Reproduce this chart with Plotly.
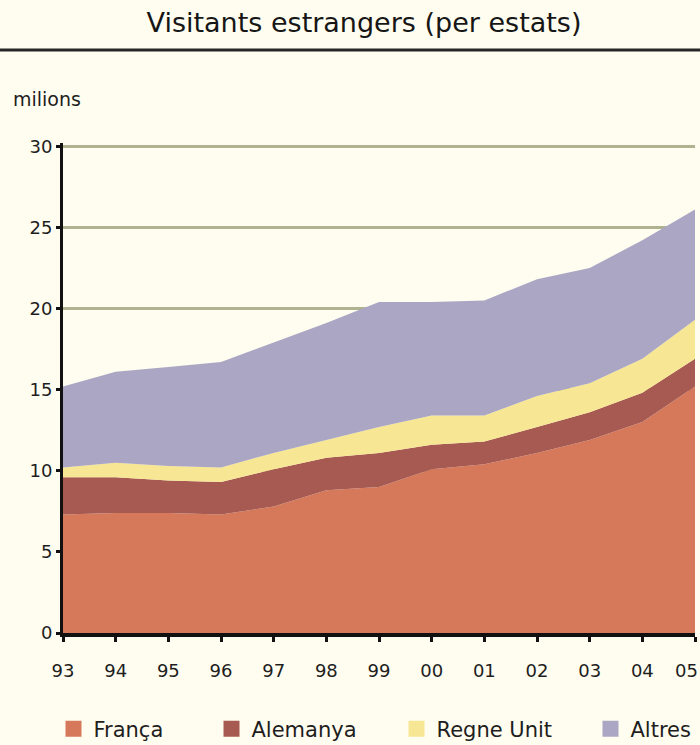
import plotly.graph_objects as go

years = ["93", "94", "95", "96", "97", "98", "99", "00", "01", "02", "03", "04", "05"]
franca = [7.3, 7.4, 7.4, 7.3, 7.8, 8.8, 9.0, 10.1, 10.4, 11.1, 11.9, 13.0, 15.2]
alemanya = [2.3, 2.2, 2.0, 2.0, 2.3, 2.0, 2.1, 1.5, 1.4, 1.6, 1.7, 1.8, 1.7]
regne_unit = [0.6, 0.9, 0.9, 0.9, 1.0, 1.1, 1.6, 1.8, 1.6, 1.9, 1.8, 2.1, 2.4]
altres = [5.0, 5.6, 6.1, 6.5, 6.8, 7.2, 7.7, 7.0, 7.1, 7.2, 7.1, 7.3, 6.8]
y_ticks = [0, 5, 10, 15, 20, 25, 30]

series_names = ["França", "Alemanya", "Regne Unit", "Altres"]
series_values = [franca, alemanya, regne_unit, altres]
colors = ["#D6795B", "#A75A52", "#F7E693", "#AAA6C4"]
legend_ids = ["legend", "legend2", "legend3", "legend4"]
legend_center_px = [75, 233, 418, 612]

FONT = "DejaVu Sans"
BG = "#FEFDEF"
TXT = "#1e1e1e"

L, R, T, B = 63, 5, 143, 112
W, H = 700, 745
pw = W - L - R
ph = H - T - B

fig = go.Figure()
for name, vals, col in zip(series_names, series_values, colors):
    fig.add_trace(go.Scatter(
        x=years, y=vals, name=name, stackgroup="one", mode="none",
        fillcolor=col, line=dict(width=0), showlegend=False,
        hoverinfo="x+y+name"))

for name, col, lid in zip(series_names, colors, legend_ids):
    fig.add_trace(go.Scatter(
        x=[None], y=[None], name=name, mode="markers",
        marker=dict(symbol="square", size=20, color=col),
        showlegend=True, legend=lid))

legend_y = (H - B - 729) / ph
legend_common = dict(orientation="h", yanchor="middle", y=legend_y, xanchor="left",
                     bgcolor="rgba(0,0,0,0)", font=dict(family=FONT, size=21, color=TXT),
                     borderwidth=0, itemwidth=30)
layout_legends = {}
for lid, cp in zip(legend_ids, legend_center_px):
    d = dict(legend_common)
    d["x"] = (cp - 21.5 - L) / pw
    layout_legends[lid] = d

# x tick labels: the last one ("05") sits at the right page edge, so it is
# placed right-aligned as an annotation to keep it fully visible.
x_ticktext = years[:-1] + [""]
annotations = [
    dict(text="milions", xref="paper", yref="paper",
         x=(11 - L) / pw, y=(H - B - 99) / ph, xanchor="left", yanchor="middle",
         showarrow=False, font=dict(family=FONT, size=19, color=TXT)),
    dict(text=years[-1], xref="paper", yref="paper", x=(700 - L) / pw, y=0,
         xanchor="right", yanchor="top", yshift=-25,
         showarrow=False, font=dict(family=FONT, size=18, color=TXT)),
]

fig.update_layout(
    width=W, height=H,
    margin=dict(l=L, r=R, t=T, b=B, autoexpand=False),
    paper_bgcolor=BG, plot_bgcolor=BG,
    font=dict(family=FONT, color=TXT),
    title=dict(text="Visitants estrangers (per estats)", x=364 / W, xanchor="center",
               y=1 - 23 / H, yanchor="middle",
               font=dict(family=FONT, size=27, color="#161616")),
    xaxis=dict(type="category", range=[0, 12], showgrid=False,
               tickvals=years, ticktext=x_ticktext,
               showline=True, linecolor="#111", linewidth=3.5,
               ticks="outside", ticklen=5, tickwidth=2.5, tickcolor="#111",
               tickfont=dict(family=FONT, size=18, color=TXT),
               zeroline=False, fixedrange=True, ticklabelstandoff=14,
               automargin=False),
    yaxis=dict(range=[0, 30.2], tickvals=y_ticks,
               showgrid=True, gridcolor="#B0B390", gridwidth=2.5,
               showline=True, linecolor="#111", linewidth=3,
               ticks="outside", ticklen=4, tickwidth=2.5, tickcolor="#111",
               tickfont=dict(family=FONT, size=18, color=TXT),
               zeroline=False, fixedrange=True, automargin=False),
    annotations=annotations,
    shapes=[dict(type="line", xref="paper", yref="paper",
                 x0=-L / pw, x1=(W - L) / pw,
                 y0=(H - B - 50) / ph, y1=(H - B - 50) / ph,
                 line=dict(color="#262626", width=3))],
    **layout_legends,
)

fig.write_html("out.html",
               config={"displayModeBar": False},
               post_script="document.body.style.margin='0';document.body.style.overflow='hidden';")
